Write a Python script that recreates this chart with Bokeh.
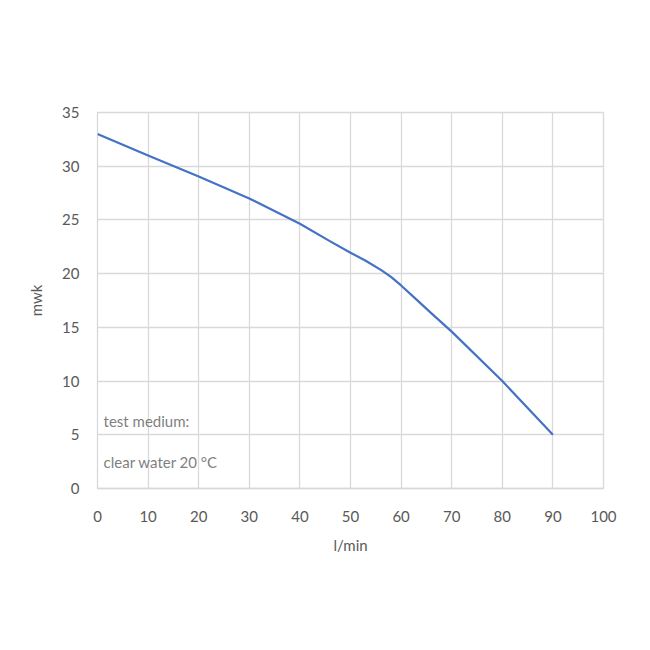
from bokeh.plotting import figure
from bokeh.models import Range1d, FixedTicker, Label, ColumnDataSource
from bokeh.embed import file_html
from bokeh.resources import INLINE

flow = [0, 10, 20, 30, 40, 46, 50, 53, 56, 58, 60, 63, 66, 70, 80, 90]
head = [33.0, 31.0, 29.05, 27.0, 24.65, 23.0, 21.95, 21.2, 20.35, 19.7, 18.9, 17.6, 16.3, 14.6, 10.0, 5.0]
x_ticks = [0, 10, 20, 30, 40, 50, 60, 70, 80, 90, 100]
y_ticks = [0, 5, 10, 15, 20, 25, 30, 35]
note_lines = ["test medium:", "clear water 20 °C"]
note_y = [6.3, 2.5]

FONT = "Lato"
TXT = "#595959"
GRID = "#d9d9d9"

p = figure(width=634, height=634, output_backend="svg", toolbar_location=None,
           x_range=Range1d(0, 100), y_range=Range1d(0, 35),
           min_border_left=97, min_border_right=31, min_border_top=112, min_border_bottom=146)

p.line(x="x", y="y", source=ColumnDataSource(dict(x=flow, y=head)),
       line_color="#4472C4", line_width=2.2, line_join="round")

for t, yy in zip(note_lines, note_y):
    p.add_layout(Label(x=1.2, y=yy, text=t, text_font=FONT, text_font_size="15px",
                       text_color="#7f7f7f", text_baseline="middle"))

p.xaxis.ticker = FixedTicker(ticks=x_ticks)
p.yaxis.ticker = FixedTicker(ticks=y_ticks)
p.xaxis.axis_label = "l/min"
p.yaxis.axis_label = "mwk"
for ax in (p.xaxis, p.yaxis):
    ax.major_tick_line_color = None
    ax.minor_tick_line_color = None
    ax.major_label_text_font = FONT
    ax.major_label_text_font_size = "15px"
    ax.major_label_text_color = TXT
    ax.axis_label_text_font = FONT
    ax.axis_label_text_font_size = "15px"
    ax.axis_label_text_font_style = "normal"
    ax.axis_label_text_color = TXT
p.xaxis.axis_line_color = GRID
p.xaxis.axis_line_width = 1.5
p.yaxis.axis_line_color = None
p.xaxis.major_label_standoff = 16
p.xaxis.axis_label_standoff = 11
p.yaxis.major_label_standoff = 12
p.yaxis.axis_label_standoff = 14

p.xgrid.grid_line_color = GRID
p.ygrid.grid_line_color = GRID
p.xgrid.grid_line_width = 1.3
p.ygrid.grid_line_width = 1.3
p.outline_line_color = GRID
p.outline_line_width = 1.3
p.background_fill_color = "white"
p.border_fill_color = "white"

open("out.html", "w").write(file_html(p, INLINE))
